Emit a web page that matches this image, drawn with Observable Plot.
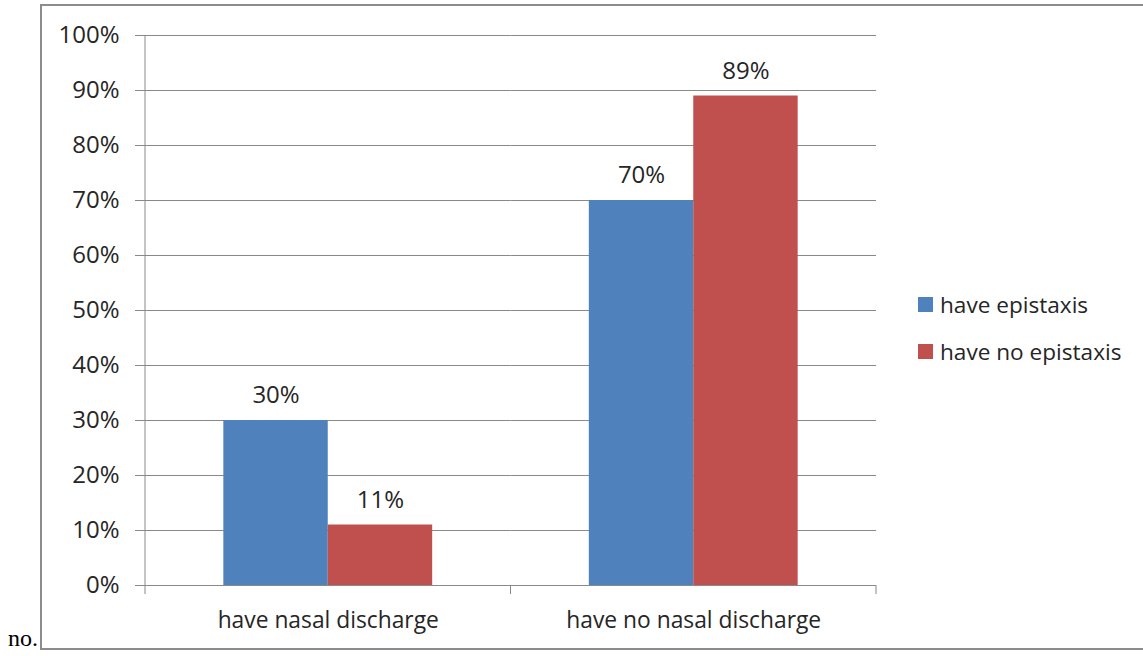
<!DOCTYPE html>
<html>
<head>
<meta charset="utf-8">
<script src="https://cdn.jsdelivr.net/npm/d3@7"></script>
<script src="https://cdn.jsdelivr.net/npm/@observablehq/plot@0.6"></script>
<style>
  html, body { margin: 0; padding: 0; background: #fff; }
  body { width: 1143px; height: 656px; overflow: hidden; position: relative; font-family: "Open Sans", sans-serif; color: #262626; }
  #frame { position: absolute; left: 40px; top: 4px; width: 1200px; height: 646px; border: 2px solid #8c8c8c; box-sizing: border-box; }
  #chart { position: absolute; left: 0; top: 0; }
  #no { position: absolute; left: 8px; top: 626px; font-family: "Liberation Serif", "Times New Roman", serif; font-size: 24px; color: #000; line-height: 1; }
  #legend { position: absolute; left: 918px; top: 281px; font-size: 22.6px; }
  .item { display: flex; align-items: center; height: 47px; white-space: nowrap; }
  .sw { width: 15px; height: 15px; margin-right: 7px; flex: none; }
</style>
</head>
<body>
<div id="frame"></div>
<div id="chart"></div>
<div id="no">no.</div>
<div id="legend"></div>
<script>
const categories = ["have nasal discharge", "have no nasal discharge"];
const series = ["have epistaxis", "have no epistaxis"];
const haveEpistaxis = [30, 70];
const haveNoEpistaxis = [11, 89];
const colors = ["#4F81BD", "#C0504D"];
const yTicks = [0, 10, 20, 30, 40, 50, 60, 70, 80, 90, 100];

const seriesValues = [haveEpistaxis, haveNoEpistaxis];
const rows = [];
categories.forEach((c, i) => {
  series.forEach((s, j) => rows.push({category: c, series: s, value: seriesValues[j][i]}));
});

const gridColor = "#898989";

const plot = Plot.plot({
  width: 1143,
  height: 656,
  marginLeft: 145,
  marginRight: 267,
  marginTop: 35,
  marginBottom: 71,
  style: {fontFamily: "'Open Sans', sans-serif", fontSize: "22px", color: "#262626", background: "transparent", overflow: "visible"},
  fx: {domain: categories, padding: 0, round: false, label: null},
  x: {domain: series, paddingInner: 0, paddingOuter: 0.75, round: false, axis: null},
  y: {domain: [0, 100], label: null},
  color: {domain: series, range: colors},
  marks: [
    Plot.gridY(yTicks, {stroke: gridColor, strokeOpacity: 1, strokeWidth: 1}),
    Plot.axisY(yTicks, {tickSize: 10, tickPadding: 16, tickFormat: d => d + "%", stroke: gridColor, strokeOpacity: 1, label: null, fontSize: 24, fill: "#262626"}),
    Plot.barY(rows, {fx: "category", x: "series", y: "value", fill: "series"}),
    Plot.text(rows, {fx: "category", x: "series", y: "value", text: d => d.value + "%", dy: -25, fontSize: 24, fill: "#262626"}),
    Plot.ruleY([0], {stroke: gridColor, strokeWidth: 1}),
    Plot.axisFx({anchor: "bottom", tickSize: 0, tickPadding: 26, label: null, fontSize: 22.8, fill: "#262626"})
  ]
});
document.getElementById("chart").appendChild(plot);

// axis line and x-axis category boundary ticks, from the plot's own scales
const fx = plot.scale("fx");
const ys = plot.scale("y");
const svg = d3.select(plot);
const y0 = ys.apply(0), yTop = ys.apply(100);
const bounds = categories.map(c => fx.apply(c));
bounds.push(fx.apply(categories[categories.length - 1]) + fx.bandwidth);
const g = svg.append("g").attr("stroke", gridColor).attr("stroke-width", 1);
g.append("line").attr("x1", bounds[0]).attr("x2", bounds[0]).attr("y1", yTop).attr("y2", y0);
bounds.forEach(b => g.append("line").attr("x1", b).attr("x2", b).attr("y1", y0).attr("y2", y0 + 9));

// legend
const legend = d3.select("#legend");
series.forEach((s, i) => {
  const it = legend.append("div").attr("class", "item");
  it.append("div").attr("class", "sw").style("background", colors[i]);
  it.append("span").text(s);
});
</script>
</body>
</html>
